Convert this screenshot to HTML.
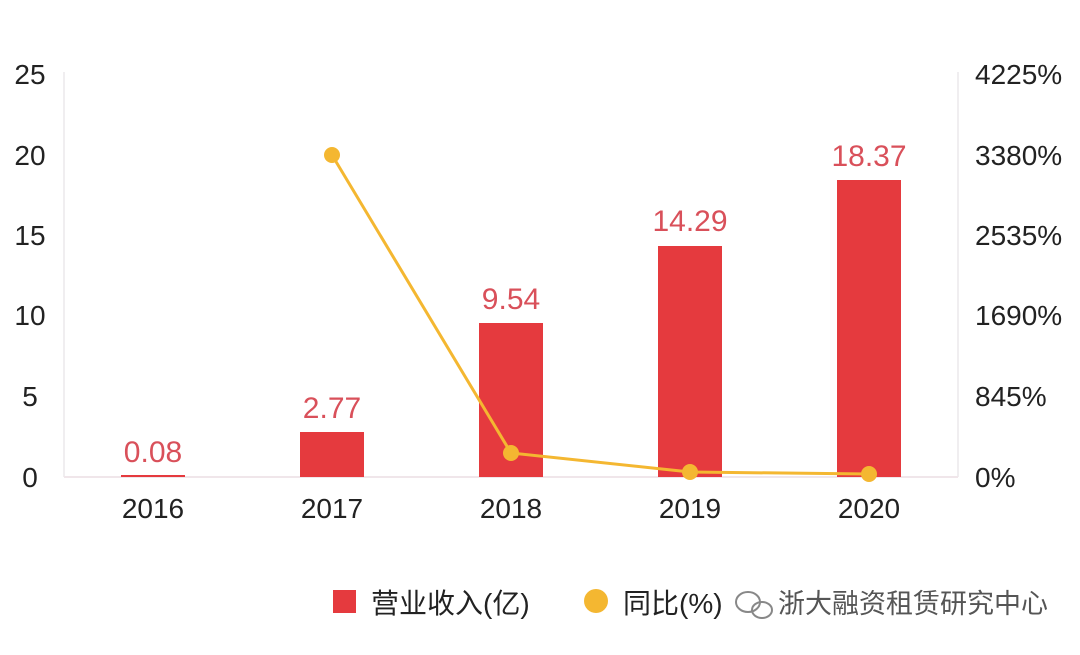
<!DOCTYPE html>
<html><head><meta charset="utf-8"><style>
html,body{margin:0;padding:0;background:#fff;width:1080px;height:655px;overflow:hidden}
text{font-family:"Liberation Sans","Noto Sans CJK SC",sans-serif}
</style></head><body>
<svg width="1080" height="655" xmlns="http://www.w3.org/2000/svg">
<rect width="1080" height="655" fill="#fff"/>
<line x1="64" y1="72" x2="64" y2="477" stroke="#f0eef0" stroke-width="2"/>
<line x1="958" y1="72" x2="958" y2="477" stroke="#f0eef0" stroke-width="2"/>
<line x1="64" y1="477" x2="958" y2="477" stroke="#f0e6ea" stroke-width="2"/>
<g font-size="28" fill="#222" text-anchor="middle">
<text x="30" y="84">25</text><text x="30" y="165">20</text><text x="30" y="245">15</text>
<text x="30" y="325">10</text><text x="30" y="406">5</text><text x="30" y="487">0</text>
</g>
<g font-size="28" fill="#222" text-anchor="start">
<text x="975" y="84">4225%</text><text x="975" y="165">3380%</text><text x="975" y="245">2535%</text>
<text x="975" y="325">1690%</text><text x="975" y="406">845%</text><text x="975" y="487">0%</text>
</g>
<g fill="#e53a3e">
<rect x="121" y="475" width="64" height="2"/>
<rect x="300" y="432" width="64" height="45"/>
<rect x="479" y="323" width="64" height="154"/>
<rect x="658" y="246" width="64" height="231"/>
<rect x="837" y="180" width="64" height="297"/>
</g>
<g font-size="30" fill="#d9505a" text-anchor="middle">
<text x="153" y="462">0.08</text>
<text x="332" y="418">2.77</text>
<text x="511" y="309">9.54</text>
<text x="690" y="231">14.29</text>
<text x="869" y="166">18.37</text>
</g>
<polyline points="332,155 511,453 690,472 869,474" fill="none" stroke="#f4b731" stroke-width="3"/>
<g fill="#f4b731">
<circle cx="332" cy="155" r="8"/><circle cx="511" cy="453" r="8"/>
<circle cx="690" cy="472" r="8"/><circle cx="869" cy="474" r="8"/>
</g>
<g font-size="28" fill="#222" text-anchor="middle">
<text x="153" y="518">2016</text><text x="332" y="518">2017</text><text x="511" y="518">2018</text>
<text x="690" y="518">2019</text><text x="869" y="518">2020</text>
</g>
<rect x="333" y="590" width="23" height="23" fill="#e53a3e"/>
<text x="371" y="613" font-size="28" fill="#222">营业收入(亿)</text>
<circle cx="596" cy="601" r="12" fill="#f4b731"/>
<text x="623" y="613" font-size="28" fill="#222">同比(%)</text>
<g fill="none" stroke="#888" stroke-width="2">
<ellipse cx="748" cy="602" rx="12" ry="10"/><ellipse cx="762" cy="610" rx="10" ry="8"/>
</g>
<text x="778" y="613" font-size="27" fill="#555">浙大融资租赁研究中心</text>
</svg>
</body></html>
